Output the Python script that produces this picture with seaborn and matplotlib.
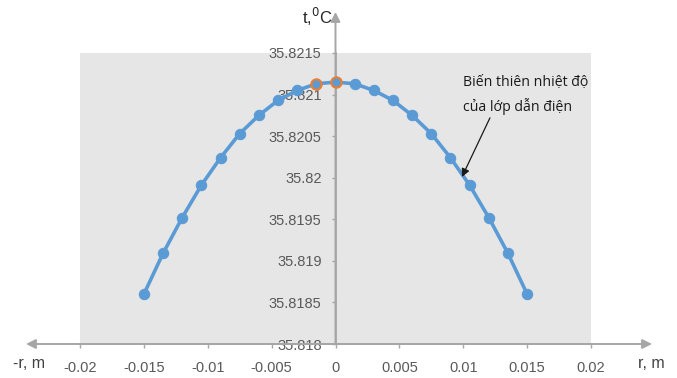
import matplotlib
matplotlib.use("Agg")
import matplotlib.pyplot as plt
import seaborn as sns
import pandas as pd

r_vals = [-0.015, -0.0135, -0.012, -0.0105, -0.009, -0.0075, -0.006, -0.0045, -0.003, -0.0015,
          0.0, 0.0015, 0.003, 0.0045, 0.006, 0.0075, 0.009, 0.0105, 0.012, 0.0135, 0.015]
t_vals = [35.81860, 35.81909, 35.81952, 35.81991, 35.82024, 35.82053, 35.82075, 35.82093, 35.82105, 35.82113,
          35.82115, 35.82113, 35.82105, 35.82093, 35.82075, 35.82053, 35.82024, 35.81991, 35.81952, 35.81909, 35.81860]
hi_r = [-0.0015, 0.0]
hi_t = [35.82113, 35.82115]
x_ticks = [-0.02, -0.015, -0.01, -0.005, 0, 0.005, 0.01, 0.015, 0.02]
x_labels = ["-0.02", "-0.015", "-0.01", "-0.005", "0", "0.005", "0.01", "0.015", "0.02"]
y_ticks = [35.818, 35.8185, 35.819, 35.8195, 35.82, 35.8205, 35.821, 35.8215]
y_labels = ["35.818", "35.8185", "35.819", "35.8195", "35.82", "35.8205", "35.821", "35.8215"]
annot_text = "Biến thiên nhiệt độ\ncủa lớp dẫn điện"

sns.set_theme(style="white")
plt.rcParams['font.family'] = ['Liberation Sans', 'DejaVu Sans']

df = pd.DataFrame({"r": r_vals, "t": t_vals})
hi = pd.DataFrame({"r": hi_r, "t": hi_t})

W, H = 677, 378
fig = plt.figure(figsize=(W / 100, H / 100), dpi=100)
ax = fig.add_axes([80 / W, 34 / H, 511 / W, 291 / H])
ax.set_facecolor("#e6e6e6")

blue = "#5b9bd5"
sns.lineplot(data=df, x="r", y="t", ax=ax, color=blue, linewidth=2.6, marker="o",
             markersize=7.5, markeredgecolor=blue, zorder=3)
sns.scatterplot(data=hi, x="r", y="t", ax=ax, color=blue, edgecolor="#ed7d31",
                linewidth=1.5, s=55, zorder=4)

ax.set_xlim(-0.02, 0.02)
ax.set_ylim(35.818, 35.8215)
ax.set_xticks(x_ticks)
ax.set_xticklabels(x_labels)
ax.set_yticks(y_ticks)
ax.set_yticklabels(y_labels)
ax.set_xlabel("")
ax.set_ylabel("")

for s in ["top", "right"]:
    ax.spines[s].set_visible(False)
ax.spines["left"].set_position(("data", 0))
ax.spines["left"].set_color("#a6a6a6")
ax.spines["bottom"].set_color("#a6a6a6")
ax.spines["left"].set_linewidth(1.2)
ax.spines["bottom"].set_linewidth(1.2)
ax.tick_params(axis="x", direction="out", length=3, width=1, color="#a6a6a6",
               pad=9, labelsize=10.5, labelcolor="#595959", bottom=True)
ax.tick_params(axis="y", direction="out", length=3, width=1, color="#a6a6a6",
               pad=7, labelsize=10.5, labelcolor="#595959", left=True)

# axis arrows
arrow_kw = dict(arrowstyle="-|>", color="#a6a6a6", lw=1.4, mutation_scale=14,
                shrinkA=0, shrinkB=0)
ax.annotate("", xy=(26, 34), xytext=(335.5, 34), xycoords="figure pixels",
            textcoords="figure pixels", arrowprops=arrow_kw, annotation_clip=False)
ax.annotate("", xy=(652, 34), xytext=(335.5, 34), xycoords="figure pixels",
            textcoords="figure pixels", arrowprops=arrow_kw, annotation_clip=False)
ax.annotate("", xy=(335.5, 366), xytext=(335.5, 34), xycoords="figure pixels",
            textcoords="figure pixels", arrowprops=arrow_kw, annotation_clip=False)

fig.text(29 / W, 15 / H, "-r, m", ha="center", va="center", fontsize=11.5, color="#404040")
fig.text(651 / W, 15 / H, "r, m", ha="center", va="center", fontsize=11.5, color="#404040")
fig.text(317 / W, 361 / H, "t,$^0$C", ha="center", va="center", fontsize=12, color="#262626")

# annotation
ax.text(0.00998, 35.82124, annot_text, ha="left", va="top", fontsize=10.2,
        color="#1a1a1a", family=["Open Sans", "DejaVu Sans"], linespacing=1.65)
ax.annotate("", xy=(0.0099, 35.82001), xytext=(0.01209, 35.82072),
            arrowprops=dict(arrowstyle="-|>", color="#1a1a1a", lw=0.9,
                            mutation_scale=12, shrinkA=0, shrinkB=0))

fig.savefig("out.png", dpi=100)
